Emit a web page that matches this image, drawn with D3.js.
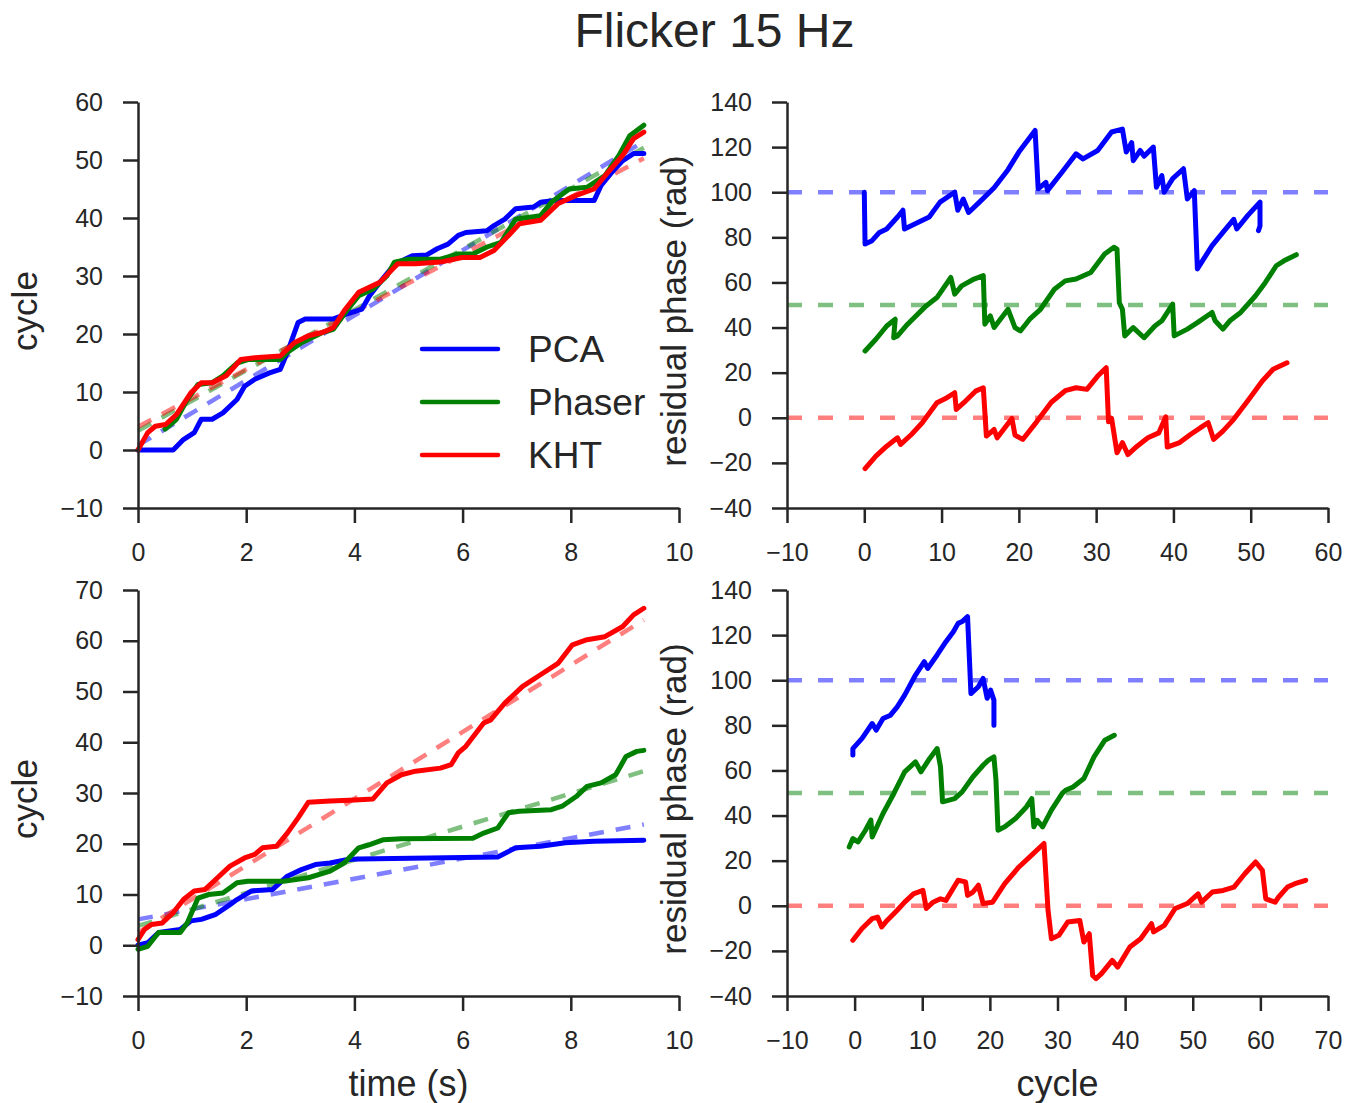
<!DOCTYPE html>
<html>
<head>
<meta charset="utf-8">
<script src="https://cdnjs.cloudflare.com/ajax/libs/d3/7.8.5/d3.min.js"></script>
<style>
  body { margin: 0; background: #fff; }
  svg text { font-family: "Liberation Sans", Arial, sans-serif; fill: #262626; }
</style>
</head>
<body>
<svg id="chart" width="1360" height="1103"></svg>
<script>
const methods = ["PCA", "Phaser", "KHT"];
const colors = ["#0000ff", "#008000", "#ff0000"];

// top row: cycle vs time (s)
const pcaTimeTop = [[0,0],[0.65,0],[0.84,1.8],[1.04,3],[1.17,5.3],[1.37,5.3],[1.57,6.4],[1.83,8.7],[1.97,11],[2.16,12.2],[2.43,13.3],[2.63,13.9],[2.76,16.8],[2.96,22],[3.09,22.6],[3.61,22.6],[3.94,23.7],[4.14,24.3],[4.28,26.6],[4.47,28.9],[4.67,31.2],[4.87,32.6],[5.07,33.5],[5.33,33.6],[5.53,34.7],[5.73,35.5],[5.92,37],[6.06,37.5],[6.45,37.8],[6.58,38.7],[6.78,39.8],[6.98,41.6],[7.31,41.9],[7.44,42.7],[7.7,43],[8.43,43],[8.56,45.6],[8.76,47.9],[8.96,49.9],[9.16,51.1],[9.35,51.1]];
const phaserTimeTop = [[0.5,3.6],[0.71,5.3],[0.91,8.7],[1.11,11.3],[1.37,11.6],[1.57,12.8],[1.83,15],[2.03,15.6],[2.63,15.6],[2.76,16.8],[3.02,18.5],[3.42,20.3],[3.61,20.8],[3.88,24.3],[4.08,26.6],[4.34,27.7],[4.6,30],[4.74,32.4],[5.0,32.9],[5.59,32.9],[5.92,33.8],[6.19,33.8],[6.45,35],[6.71,35.8],[6.98,39.8],[7.44,40.4],[7.64,42.7],[7.97,45],[8.3,45.3],[8.63,47.3],[8.89,50.8],[9.09,54.2],[9.35,56]];
const khtTimeTop = [[0,0],[0.18,3],[0.32,4.1],[0.51,4.4],[0.71,6.1],[0.98,9.9],[1.17,11.6],[1.37,11.6],[1.63,12.8],[1.9,15.6],[2.16,15.9],[2.63,16.2],[2.89,18.5],[3.15,19.7],[3.42,20.3],[3.61,21.1],[3.81,24],[4.08,27.2],[4.47,28.9],[4.8,32.1],[5.13,32.1],[5.59,32.4],[5.99,33.2],[6.32,33.2],[6.58,34.4],[6.85,37],[7.05,39],[7.44,39.6],[7.77,42.5],[8.1,43.9],[8.43,45],[8.69,47.9],[8.96,50.8],[9.16,53.7],[9.35,54.8]];
const fitsTop = [[[0,0.8],[9.35,53.2]], [[0,3.3],[9.35,52.1]], [[0,4.0],[9.35,50.3]]];

// top row: residual phase vs cycle
const pcaResTop = [[0,100],[0.1,77],[1,78.5],[1.9,82],[2.9,83.7],[4.3,89],[5,92],[5.2,83.7],[6.6,86],[8.4,89],[9.8,95.6],[11.7,100],[12.1,92],[12.8,97],[13.5,91],[14.9,95.6],[16.8,102],[18.6,110],[20,117.8],[22.1,127.4],[22.5,101.5],[23.5,104.4],[23.7,100.7],[25.6,109],[27.4,117],[28.3,114.8],[30.2,118.5],[32,126.7],[33.4,128],[33.9,117.8],[34.6,122],[34.8,114],[35.7,118.5],[36.2,116],[37.4,120],[37.8,102.2],[38.5,107.4],[38.8,100],[39.9,106],[41.3,110.4],[41.8,97],[42.7,100.7],[43.1,66],[45,76.3],[46.4,82.2],[47.8,88],[48.2,83.7],[49.6,89.6],[51.2,95.6],[51.2,85],[51,83]];
const phaserResTop = [[0.1,29.6],[1.5,34.8],[2.9,40.7],[4,43.7],[3.8,35.5],[4.3,36.3],[5.6,41.5],[8,49.6],[9.4,53.3],[11.2,62.2],[11.7,54.8],[12.6,58.5],[14.2,61.5],[15.4,63],[15.6,41.5],[16.3,45.2],[16.8,40],[18.6,48.1],[19.5,40],[20.2,38.5],[21.4,43.7],[22.8,48.1],[24.6,57],[26,60.7],[27.4,61.5],[29.3,64.4],[31.1,72.6],[32.3,75.6],[32.7,74.8],[33,51],[33.4,48.1],[33.7,36.3],[34.8,40],[36.2,35.5],[37.6,40.7],[38.5,43],[39.9,50.4],[40.1,36.3],[41.8,39.3],[43.1,42.2],[45,46.7],[45.4,43],[46.4,39.3],[47.3,43],[48.7,46.7],[50.6,54],[51.9,60],[53.3,67.4],[54.3,69.6],[55.9,72.3]];
const khtResTop = [[0.1,-22.5],[1.5,-17],[2.9,-12.6],[4.3,-8.9],[4.7,-11.8],[6.1,-7.4],[7.5,-2.2],[9.4,6.7],[10.7,8.9],[11.7,11.1],[11.9,3.7],[13.1,7.4],[14.4,11.8],[15.4,13.3],[15.8,-8.1],[16.8,-5.2],[17.2,-8.9],[19.1,-0.3],[19.5,-7.7],[20.5,-9.6],[22.3,-1.8],[24.2,6.9],[26,12],[27.4,13.3],[28.8,12.6],[30.2,18.5],[31.3,22.2],[31.6,-1.8],[32,-0.3],[32.7,-15.5],[33.4,-11],[34.1,-16.3],[35.3,-12.6],[36.7,-8.9],[38.1,-6.7],[39,0.4],[39.2,-13],[40.8,-11],[42.2,-7.4],[43.8,-3.7],[44.5,-2.2],[45.2,-9.6],[46.4,-5.9],[47.8,-0.7],[49.6,7.4],[51.5,16.3],[52.9,21.5],[54.7,24.4]];

// bottom row: cycle vs time (s)
const pcaTimeBottom = [[0,0],[0.18,0.5],[0.38,2.5],[0.78,3.1],[0.98,4.8],[1.17,5.1],[1.44,6.1],[1.7,8],[1.83,9],[2.1,10.7],[2.49,11],[2.76,13.6],[3.02,14.9],[3.28,15.9],[3.55,16.2],[3.88,16.9],[4.08,17],[6.65,17.4],[6.98,19.2],[7.44,19.5],[7.9,20.2],[8.43,20.5],[9.35,20.7]];
const phaserTimeBottom = [[0,-0.8],[0.18,-0.2],[0.38,2.5],[0.78,2.5],[0.91,4.4],[1.11,9.3],[1.31,10],[1.57,10.3],[1.83,12.3],[2.03,12.6],[2.69,12.6],[3.15,13.3],[3.55,14.6],[3.81,16.2],[4.08,19.2],[4.27,19.8],[4.54,20.8],[4.87,21],[6.19,21.1],[6.39,22.1],[6.65,23.1],[6.85,26.1],[7.05,26.4],[7.64,26.7],[7.84,27.4],[8.1,29.3],[8.3,31.3],[8.56,32],[8.83,33.6],[9.02,37.2],[9.22,38.2],[9.35,38.4]];
const khtTimeBottom = [[0,1.1],[0.12,3.1],[0.25,4.1],[0.45,4.4],[0.65,6.4],[0.84,9],[1.04,10.7],[1.24,11],[1.44,13],[1.7,15.6],[1.97,17.2],[2.16,17.9],[2.3,19.2],[2.56,19.5],[2.76,22.1],[2.96,25.1],[3.15,28.2],[3.55,28.4],[4.01,28.6],[4.34,28.8],[4.6,32],[4.87,33.6],[5.13,34.3],[5.59,34.9],[5.79,35.6],[5.92,37.9],[6.06,39.2],[6.39,43.8],[6.52,44.4],[6.78,47.7],[7.11,51],[7.44,53.3],[7.77,55.6],[8.03,59.2],[8.3,60.2],[8.63,60.8],[8.96,62.8],[9.16,65.1],[9.35,66.4]];
const fitsBottom = [[[0,5.1],[9.35,23.8]], [[0,3.8],[9.35,34.3]], [[0,2.5],[9.35,64.1]]];

// bottom row: residual phase vs cycle
const pcaResBottom = [[-0.26,66.8],[-0.26,69.7],[1.1,74.2],[2.6,80.8],[3.2,77.9],[4.2,83],[5.3,84.5],[6.3,88.2],[7.4,93.4],[9,102.3],[10.3,108.2],[10.8,105.2],[12.2,111.2],[13.5,117.1],[14.6,121.5],[15.3,125.2],[15.9,126],[16.7,128.2],[17.2,94.1],[18.3,97.1],[19,100.8],[19.6,92],[20.1,95.6],[20.6,91.2],[20.6,80]];
const phaserResBottom = [[-0.8,26.1],[-0.26,29.8],[0.5,28.3],[1.6,33.5],[2.4,38],[2.6,30.5],[4.2,40.9],[5.8,49.8],[7.4,59.4],[9,63.8],[9.8,59.4],[11.1,65.3],[12.2,69.7],[12.7,61.6],[13,46.1],[14.8,47.5],[15.9,50.5],[17.5,57.2],[19,62.3],[19.8,64.6],[20.6,66],[20.9,55.7],[21.2,33.5],[22.2,35],[23.8,38.7],[25.4,43.8],[26.2,47.5],[26.5,35],[27,37.9],[27.8,35],[29.1,42.4],[30.7,49.8],[31.2,51.2],[32.3,52.7],[33.9,56.4],[35.4,66],[37,73.4],[38.4,75.6]];
const khtResBottom = [[-0.26,-15.3],[1.1,-10.1],[2.6,-5.7],[3.4,-5],[4,-9.4],[4.8,-6.5],[6.3,-2],[7.4,1.6],[8.7,5.3],[10.1,6.8],[10.6,-1.2],[11.6,1.6],[12.7,3.1],[13.5,2.4],[15.3,11.3],[16.4,10.6],[16.7,4.6],[17.5,6.1],[18.3,9.1],[19,1],[20.4,1.6],[22.2,9.8],[24.3,17.2],[25.9,21.7],[28,27.6],[28.6,-2],[29.1,-14.6],[30.2,-13.1],[31.5,-7.2],[33.3,-6.5],[33.9,-16.1],[34.7,-12.4],[35.2,-30.9],[35.7,-32.3],[36.5,-30.1],[38.1,-24.2],[38.9,-27.2],[40.7,-18.3],[42.3,-14.6],[43.9,-7.9],[44.2,-11.6],[45.8,-8.7],[47.4,-1.2],[49.2,1],[50.8,5.3],[51.3,1.6],[52.9,6.1],[54.5,6.8],[56.1,8.3],[57.7,14.2],[59.3,19.4],[60.3,15.7],[60.8,3.1],[62.2,1.6],[62.7,3.9],[64,8.3],[65.1,9.8],[66.7,11.3]];

const residualOffsets = [100, 50, 0];

const timeTicks = [0, 2, 4, 6, 8, 10];
const cycleTicksTop = [-10, 0, 10, 20, 30, 40, 50, 60];
const cycleTicksBottom = [-10, 0, 10, 20, 30, 40, 50, 60, 70];
const resXTicksTop = [-10, 0, 10, 20, 30, 40, 50, 60];
const resXTicksBottom = [-10, 0, 10, 20, 30, 40, 50, 60, 70];
const resYTicks = [-40, -20, 0, 20, 40, 60, 80, 100, 120, 140];

const svg = d3.select("#chart");
const axisColor = "#262626";

function drawPanel(box, xDomain, yDomain, xTicks, yTicks, series, fits, hlines, xLabel, yLabel, yLabelX) {
    const x = d3.scaleLinear().domain(xDomain).range([box.x0, box.x1]);
    const y = d3.scaleLinear().domain(yDomain).range([box.y1, box.y0]);
    const g = svg.append("g");

    const line = d3.line().x(d => x(d[0])).y(d => y(d[1]));

    // dashed fit lines (left) or offset references (right)
    if (fits) {
        fits.forEach((f, i) => {
            g.append("path")
                .attr("d", line(f))
                .attr("fill", "none")
                .attr("stroke", colors[i])
                .attr("stroke-opacity", 0.5)
                .attr("stroke-width", 4.5)
                .attr("stroke-dasharray", "15,12");
        });
    }
    if (hlines) {
        hlines.forEach((h, i) => {
            g.append("path")
                .attr("d", line([[xDomain[0], h], [xDomain[1], h]]))
                .attr("fill", "none")
                .attr("stroke", colors[i])
                .attr("stroke-opacity", 0.5)
                .attr("stroke-width", 4.5)
                .attr("stroke-dasharray", "15,16");
        });
    }

    series.forEach((s, i) => {
        g.append("path")
            .attr("d", line(s))
            .attr("fill", "none")
            .attr("stroke", colors[i])
            .attr("stroke-width", 5)
            .attr("stroke-linejoin", "round")
            .attr("stroke-linecap", "round");
    });

    const fmt = d => d < 0 ? "\u2212" + Math.abs(d) : d;
    const xAxis = d3.axisBottom(x).tickValues(xTicks).tickSize(15).tickSizeOuter(0).tickPadding(20).tickFormat(fmt);
    const yAxis = d3.axisLeft(y).tickValues(yTicks).tickSize(15).tickSizeOuter(0).tickPadding(20).tickFormat(fmt);

    const gx = g.append("g").attr("transform", `translate(0,${box.y1})`).call(xAxis);
    const gy = g.append("g").attr("transform", `translate(${box.x0},0)`).call(yAxis);
    [gx, gy].forEach(a => {
        a.selectAll("path, line").attr("stroke", axisColor).attr("stroke-width", 2.5);
        a.selectAll("text").style("font-size", "25px").attr("fill", axisColor)
            .style("font-family", '"Liberation Sans", Arial, sans-serif');
    });

    if (xLabel) {
        g.append("text")
            .attr("x", (box.x0 + box.x1) / 2)
            .attr("y", 1096)
            .attr("text-anchor", "middle")
            .style("font-size", "36px")
            .text(xLabel);
    }
    g.append("text")
        .attr("transform", `translate(${yLabelX},${(box.y0 + box.y1) / 2 + 6}) rotate(-90)`)
        .attr("text-anchor", "middle")
        .style("font-size", "35px")
        .text(yLabel);
}

drawPanel({x0: 138, x1: 679, y0: 102, y1: 508}, [0, 10], [-10, 60], timeTicks, cycleTicksTop,
    [pcaTimeTop, phaserTimeTop, khtTimeTop], fitsTop, null, null, "cycle", 37);
drawPanel({x0: 787, x1: 1328, y0: 102, y1: 508}, [-10, 60], [-40, 140], resXTicksTop, resYTicks,
    [pcaResTop, phaserResTop, khtResTop], null, residualOffsets, null, "residual phase (rad)", 686);
drawPanel({x0: 138, x1: 679, y0: 590, y1: 996}, [0, 10], [-10, 70], timeTicks, cycleTicksBottom,
    [pcaTimeBottom, phaserTimeBottom, khtTimeBottom], fitsBottom, null, "time (s)", "cycle", 37);
drawPanel({x0: 787, x1: 1328, y0: 590, y1: 996}, [-10, 70], [-40, 140], resXTicksBottom, resYTicks,
    [pcaResBottom, phaserResBottom, khtResBottom], null, residualOffsets, "cycle", "residual phase (rad)", 686);

// legend in the top-left panel
const legend = svg.append("g");
methods.forEach((m, i) => {
    const ly = 349 + i * 53;
    legend.append("line")
        .attr("x1", 422).attr("x2", 498).attr("y1", ly).attr("y2", ly)
        .attr("stroke", colors[i]).attr("stroke-width", 4.5).attr("stroke-linecap", "round");
    legend.append("text")
        .attr("x", 528).attr("y", ly + 13)
        .style("font-size", "37px")
        .text(m);
});

// title
svg.append("text")
    .attr("x", 714.5)
    .attr("y", 47)
    .attr("text-anchor", "middle")
    .style("font-size", "48px")
    .text("Flicker 15 Hz");
</script>
</body>
</html>
